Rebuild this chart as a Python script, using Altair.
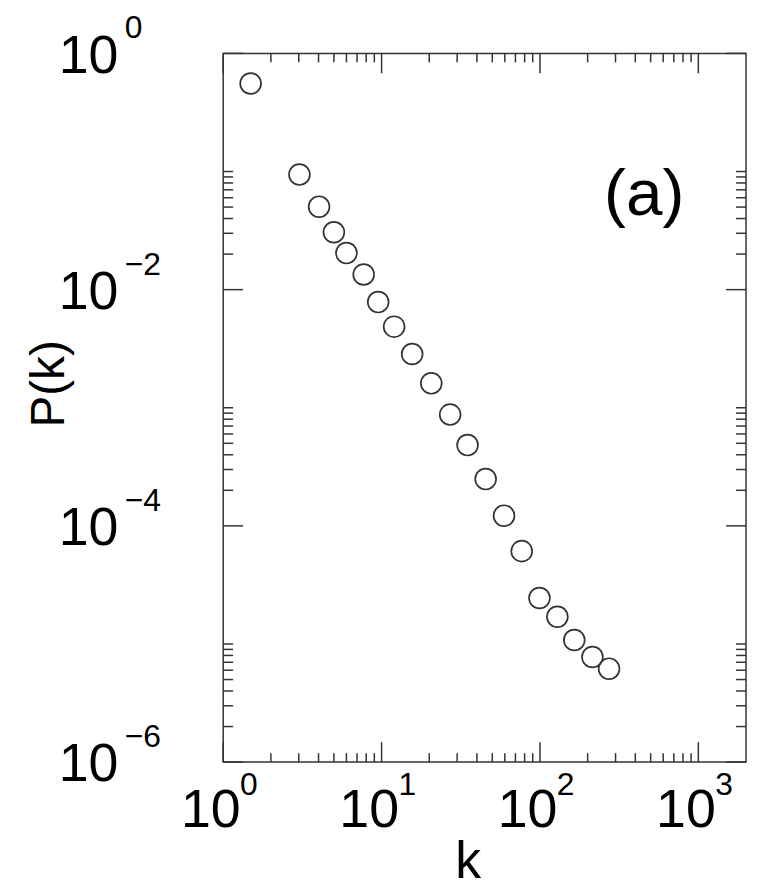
import altair as alt
import pandas as pd

# ---- data ----
k_values = [1.49, 3.03, 4.03, 5.0, 6.0, 7.71, 9.52, 12.0, 15.6, 20.6,
            27.1, 34.9, 45.4, 59.3, 76.7, 99.3, 128.8, 164.7, 214.5, 273.0]
p_values = [0.556, 0.0942, 0.0504, 0.0306, 0.0204, 0.01343, 0.00785, 0.00486,
            0.00285, 0.00161, 8.75e-4, 4.83e-4, 2.49e-4, 1.22e-4, 6.11e-5,
            2.45e-5, 1.70e-5, 1.08e-5, 7.76e-6, 6.18e-6]

x_label_values = [1, 10, 100, 1000]
x_label_exponents = ["0", "1", "2", "3"]
y_label_values = [1.0, 1e-2, 1e-4, 1e-6]
y_label_exponents = ["0", "\u22122", "\u22124", "\u22126"]

x_minor_values = [m * 10 ** e for e in range(3) for m in range(2, 10)]
y_minor_values = [m * 10.0 ** e for e in (-6, -4, -2) for m in range(2, 11)]

annotation_text = ["(a)"]
annotation_k = [455]
annotation_p = [0.0431]

# ---- layout ----
W, H = 526, 713
FONT = "Liberation Sans"
INK = "#333333"
MAJ, MIN = 20, 10

xs = alt.Scale(type="log", domain=[1, 2000], nice=False)
ys = alt.Scale(type="log", domain=[1e-6, 1], nice=False)

x_axis = alt.Axis(
    values=x_label_values, labelExpr="'10'", ticks=False, domain=False, grid=False,
    labelFont=FONT, labelFontSize=54, labelColor="black", labelPadding=22,
    labelOffset=-13, labelFlush=False, labelOverlap=False,
    title="k", titleFont=FONT, titleFontSize=52, titleFontWeight="normal",
    titleColor="black", titleX=246, titleY=116, titleBaseline="alphabetic",
    titleAlign="center")
y_axis = alt.Axis(
    values=y_label_values, labelExpr="'10'", ticks=False, domain=False, grid=False,
    labelFont=FONT, labelFontSize=54, labelColor="black", labelPadding=106,
    labelOffset=3, labelFlush=False, labelOverlap=False, labelAlign="right",
    labelBaseline="middle",
    title="P(k)", titleFont=FONT, titleFontSize=48, titleFontWeight="normal",
    titleColor="black", titleAngle=270, titleX=-161, titleY=332,
    titleBaseline="alphabetic", titleAlign="center")

pts = pd.DataFrame({"k": k_values, "P": p_values})
xlab = pd.DataFrame({"k": x_label_values, "e": x_label_exponents})
ylab = pd.DataFrame({"P": y_label_values, "e": y_label_exponents})
xmaj = pd.DataFrame({"k": x_label_values})
ymaj = pd.DataFrame({"P": y_label_values})
xmin = pd.DataFrame({"k": x_minor_values})
ymin = pd.DataFrame({"P": y_minor_values})
anno = pd.DataFrame({"k": annotation_k, "P": annotation_p, "t": annotation_text})

X = alt.X("k:Q", scale=xs, axis=x_axis)
Y = alt.Y("P:Q", scale=ys, axis=y_axis)

points = alt.Chart(pts).mark_point(
    shape="circle", filled=False, size=440, stroke=INK, strokeWidth=1.7, opacity=1
).encode(x=X, y=Y)

def xticks(df, length):
    bottom = alt.Chart(df).mark_rule(color=INK, strokeWidth=1.5).encode(
        x=X, y=alt.value(H), y2=alt.value(H - length))
    top = alt.Chart(df).mark_rule(color=INK, strokeWidth=1.5).encode(
        x=X, y=alt.value(0), y2=alt.value(length))
    return [bottom, top]

def yticks(df, length):
    left = alt.Chart(df).mark_rule(color=INK, strokeWidth=1.5).encode(
        y=Y, x=alt.value(0), x2=alt.value(length))
    right = alt.Chart(df).mark_rule(color=INK, strokeWidth=1.5).encode(
        y=Y, x=alt.value(W), x2=alt.value(W - length))
    return [left, right]

x_sup = alt.Chart(xlab).mark_text(
    align="left", baseline="alphabetic", font=FONT, fontSize=32, dx=17, color="black"
).encode(x=X, y=alt.value(H + 33), text="e:N")

y_sup = alt.Chart(ylab).mark_text(
    align="left", baseline="alphabetic", font=FONT, fontSize=32, dy=-15, color="black"
).encode(y=Y, x=alt.value(-99), text="e:N")

label_a = alt.Chart(anno).mark_text(
    align="center", baseline="alphabetic", font=FONT, fontSize=66, color="black"
).encode(x=X, y=Y, text="t:N")

layers = ([points] + xticks(xmaj, MAJ) + xticks(xmin, 9) + yticks(ymaj, MAJ)
          + yticks(ymin, MIN) + [x_sup, y_sup, label_a])

chart = alt.layer(*layers).properties(
    width=W, height=H,
    autosize=alt.AutoSizeParams(type="none"),
    padding={"left": 216.5, "top": 43, "right": 4, "bottom": 126},
    background="white",
).configure_view(stroke=INK, strokeWidth=1.5)

chart.save("out.html", embed_options={"renderer": "svg", "actions": False})
